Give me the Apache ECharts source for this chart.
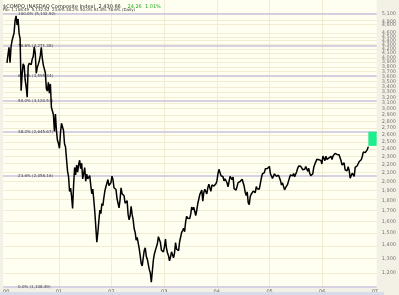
<!DOCTYPE html>
<html><head><meta charset="utf-8">
<script src="https://cdn.jsdelivr.net/npm/echarts@6/dist/echarts.min.js"></script>
<style>html,body{margin:0;padding:0;background:#f3f1e5;}#c{width:399px;height:295px;}</style>
</head><body><div id="c"></div><script>
// Weekly closes (Friday) of the NASDAQ Composite
const weekStarts = ['2000-01-07','2001-01-05','2002-01-04','2003-01-03','2004-01-02','2005-01-07','2006-01-06'];
const closes2000 = [3882,4064,4235,3887,4244,4395,4411,4590,4914,5048,4798,4963,4573,4446,3321,3643,3860,3817,3529,3390,3205,3813,3874,3860,3845,3966,4024,4246,4095,3663,3787,3849,3930,4042,4234,3979,3835,3803,3673,3361,3316,3483,3278,3451,3028,3027,2904,2645,2917,2653,2517,2471];
const closes2001 = [2407,2626,2770,2781,2660,2470,2425,2262,2118,2052,1890,1928,1840,1720,1961,2163,2075,2192,2107,2199,2252,2149,2215,2028,2034,2161,2004,2084,2029,2030,2066,1956,1867,1916,1805,1688,1695,1423,1499,1605,1703,1671,1768,1746,1828,1898,1941,1930,2021,1953,1945,1987];
const closes2002 = [2059,2022,1931,1937,1911,1818,1805,1725,1802,1929,1868,1851,1845,1770,1756,1796,1663,1613,1652,1741,1661,1615,1535,1504,1440,1463,1448,1374,1319,1262,1247,1306,1361,1380,1315,1295,1291,1221,1199,1139,1210,1287,1331,1360,1359,1411,1468,1479,1422,1362,1363,1348];
const closes2003 = [1387,1448,1376,1342,1320,1282,1310,1349,1337,1305,1340,1421,1369,1383,1358,1425,1434,1502,1520,1539,1510,1596,1646,1627,1645,1625,1663,1733,1708,1731,1715,1653,1702,1765,1810,1858,1855,1905,1792,1880,1915,1912,1865,1932,1970,1930,1893,1960,1969,1949,1951,1974];
const closes2004 = [2006,2086,2140,2124,2066,2064,2053,2007,2030,2047,1985,1940,1960,2057,2053,2020,2050,1920,1917,1905,1912,1987,1978,1999,1986,2025,2006,1946,1883,1849,1887,1777,1757,1838,1862,1844,1894,1911,1879,1942,1919,1911,1915,1975,2038,2085,2070,2101,2148,2129,2150,2154,2175];
const closes2005 = [2088,2087,2035,2035,2086,2076,2058,2065,2071,2041,2007,1960,1984,1999,1908,1932,1922,1967,1977,2046,2075,2071,2063,2090,2053,2057,2112,2152,2180,2185,2177,2157,2136,2120,2141,2175,2146,2116,2152,2090,2064,2082,2089,2169,2203,2227,2263,2273,2257,2253,2250,2205];
const closes2006 = [2305,2317,2247,2304,2262,2261,2282,2287,2302,2262,2306,2313,2340,2339,2326,2342,2323,2342,2244,2193,2210,2219,2135,2129,2121,2172,2130,2037,2039,2094,2085,2057,2163,2141,2184,2165,2236,2218,2258,2299,2357,2343,2350,2330,2390,2430];
const yearCloses = [closes2000,closes2001,closes2002,closes2003,closes2004,closes2005,closes2006];

const yTickValues = [1100,1200,1300,1400,1500,1600,1700,1800,1900,2000,2100,2200,2300,2400,2500,2600,2700,2800,2900,3000,3100,3200,3300,3400,3500,3600,3700,3800,3900,4000,4100,4200,4300,4400,4500,4600,4800,4900,5100];
const xTickDates = ['2000-01-01','2001-01-01','2002-01-01','2003-01-01','2004-01-01','2005-01-01','2006-01-01','2007-01-01'];
const xTickLabels = ['00','01','02','03','04','05','06','07'];

const fibPct = ['0.0%','23.6%','38.2%','50.0%','61.8%','78.6%','100.0%'];
const fibVal = [1108.49,2058.16,2645.67,3120.51,3595.34,4271.38,5132.52];
const boxRange = [2440, 2640];

const yMin = 1101.8, yMax = 5519;
const xMin = '1999-12-11', xMax = '2007-01-14';

const DAY = 86400000;
const lineData = [];
yearCloses.forEach((arr, k) => {
  const t0 = Date.parse(weekStarts[k]);
  arr.forEach((v, i) => lineData.push([t0 + i * 7 * DAY, Math.log(v)]));
});
const lastT = lineData[lineData.length - 1][0];
const fmt = v => Math.round(v).toLocaleString('en-US');
const xTickTs = xTickDates.map(d => Date.parse(d));

const chart = echarts.init(document.getElementById('c'), null, {renderer: 'canvas'});
chart.setOption({
  animation: false,
  backgroundColor: '#f3f1e5',
  grid: {left: 0, right: 16, top: 0, bottom: 7, show: true, backgroundColor: '#fffff1', borderWidth: 0},
  xAxis: {
    type: 'value', min: Date.parse(xMin), max: Date.parse(xMax), scale: true,
    axisLine: {show: false}, axisTick: {show: false}, splitLine: {show: false},
    axisLabel: {
      customValues: xTickTs, fontSize: 5, color: '#666', margin: 1, fontFamily: 'DejaVu Sans',
      formatter: v => { const i = xTickTs.indexOf(v); return i >= 0 ? xTickLabels[i] : ''; }
    }
  },
  yAxis: {
    type: 'value', position: 'right', min: Math.log(yMin), max: Math.log(yMax), scale: true,
    axisLine: {show: false}, axisTick: {show: false}, splitLine: {show: false},
    axisLabel: {
      customValues: yTickValues.map(Math.log), fontSize: 5, color: '#777', margin: 5, fontFamily: 'DejaVu Sans',
      formatter: v => fmt(Math.exp(v))
    }
  },
  graphic: [
    {type: 'text', left: 3, top: 1, z: 100, style: {
      text: '{a|$COMPQ (NASDAQ Composite Index)  2,430.66}  {g|24.26  1.01%}',
      rich: {a: {fontSize: 5, fill: '#222', fontFamily: 'DejaVu Sans'}, g: {fontSize: 5, fill: '#22aa22', fontFamily: 'DejaVu Sans'}}
    }},
    {type: 'text', left: 3, top: 8, z: 100, style: {
      text: 'Fib: 1,108.49  5,132.52  23.6% 38.2% 50.0% 61.8% 78.6% (Daily)', fontSize: 4, fill: '#333', fontFamily: 'DejaVu Sans'
    }},
    {type: 'rect', left: 0, bottom: 0, z: 100, shape: {width: 384, height: 3}, style: {fill: '#d6dde8'}}
  ],
  series: [
    {
      type: 'line', data: [], silent: true, z: 1,
      markLine: {
        silent: true, symbol: 'none', animation: false, z: 1,
        lineStyle: {color: '#f1ecd2', width: 1, type: 'solid'}, label: {show: false},
        data: yTickValues.map(v => ({yAxis: Math.log(v)})).concat(xTickTs.slice(1, 7).map(t => ({xAxis: t})))
      }
    },
    {
      type: 'line', data: [], silent: true, z: 2,
      markLine: {
        silent: true, symbol: 'none', animation: false, z: 2,
        lineStyle: {color: '#cbc0de', width: 1.5, type: 'solid'},
        label: {show: true, position: 'insideStart', distance: 15, fontSize: 4, color: '#444', fontFamily: 'DejaVu Sans', formatter: p => p.name},
        data: fibVal.map((v, i) => ({yAxis: Math.log(v), name: fibPct[i] + ' (' + v.toLocaleString('en-US', {minimumFractionDigits: 2}) + ')'}))
      }
    },
    {
      type: 'line', data: lineData, showSymbol: false, z: 5,
      lineStyle: {color: '#000', width: 1.5}
    },
    {
      type: 'line', data: [], silent: true, z: 10,
      markArea: {
        silent: true, z: 20, itemStyle: {color: '#1fec8c', opacity: 1},
        data: [[{xAxis: lastT, yAxis: Math.log(boxRange[0])}, {xAxis: Date.parse(xMax), yAxis: Math.log(boxRange[1])}]]
      }
    }
  ]
});
</script></body></html>
